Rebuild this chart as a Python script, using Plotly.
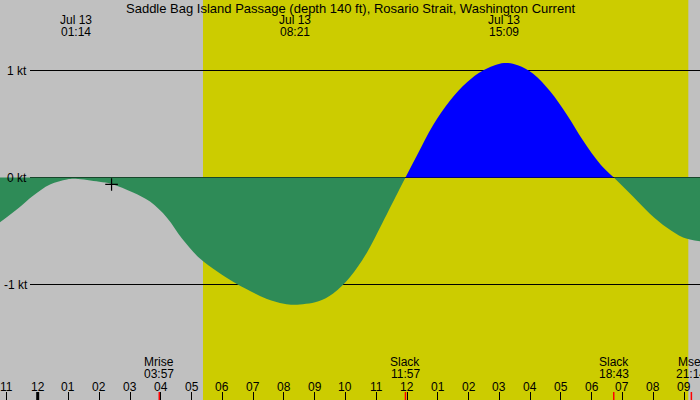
import plotly.graph_objects as go

# ---- data (hours relative to midnight Jul 13) ----
hours = [-1.23, -0.6, -0.15, 0.4, 0.95, 1.23, 2.0, 2.4, 3.1, 3.65, 4.2, 4.7, 5.3,
         6.35, 6.9, 7.45, 8.0, 8.35, 9.1, 9.6, 10.15, 10.7, 11.2, 11.75, 11.95,
         12.33, 12.85, 13.4, 13.95, 14.47, 15.15, 15.6, 16.1, 16.65, 17.2, 17.72,
         18.28, 18.72, 19.35, 19.9, 20.45, 20.97, 21.52]
speed = [-0.42, -0.28, -0.17, -0.065, -0.018, -0.012, -0.04, -0.06, -0.14, -0.225,
         -0.375, -0.575, -0.765, -0.975, -1.06, -1.135, -1.18, -1.19, -1.16, -1.085,
         -0.931, -0.70, -0.425, -0.112, 0.0, 0.21, 0.49, 0.72, 0.89, 1.00, 1.07, 1.05,
         0.97, 0.805, 0.585, 0.346, 0.125, 0.0, -0.18, -0.34, -0.47, -0.56, -0.595]

title = "Saddle Bag Island Passage (depth 140 ft), Rosario Strait, Washington Current"

peak_hours = [1.233, 8.35, 15.15]
peak_dates = ["Jul 13", "Jul 13", "Jul 13"]
peak_times = ["01:14", "08:21", "15:09"]

event_hours = [3.95, 11.95, 18.717, 21.24]
event_names = ["Mrise", "Slack", "Slack", "Mset"]
event_times = ["03:57", "11:57", "18:43", "21:14"]

sunrise, sunset = 5.37, 21.14
marker_hour, marker_speed = [2.4], [-0.065]

tick_hours = list(range(-1, 22))
tick_text = ["11", "12", "01", "02", "03", "04", "05", "06", "07", "08", "09", "10",
             "11", "12", "01", "02", "03", "04", "05", "06", "07", "08", "09"]

kt_levels = [1, 0, -1]
kt_labels = ["1 kt", "0 kt", "-1 kt"]

W, H = 700, 400
GRAY = "#c0c0c0"
YEL = "#cccc00"
GREEN = "#2e8b57"
BLUE = "#0000ff"
FONT = "Liberation Sans"
FS = 12

fig = go.Figure()

# split into sign segments at slack points
i1 = hours.index(11.95)
i2 = hours.index(18.72)
segs = [(hours[:i1 + 1], speed[:i1 + 1], GREEN),
        (hours[i1:i2 + 1], speed[i1:i2 + 1], BLUE),
        (hours[i2:], speed[i2:], GREEN)]
for hx, sy, col in segs:
    fig.add_trace(go.Scatter(x=hx, y=sy, mode="lines", fill="tozeroy",
                             fillcolor=col, line=dict(width=0, shape="spline", smoothing=1.0),
                             hoverinfo="skip", showlegend=False))

fig.add_trace(go.Scatter(x=marker_hour, y=marker_speed, mode="markers",
                         marker=dict(symbol="cross-thin", size=9, line=dict(width=1.2, color="black")),
                         showlegend=False, hoverinfo="skip"))

shapes = [dict(type="rect", xref="x", yref="paper", x0=sunrise, x1=sunset, y0=0, y1=1,
               fillcolor=YEL, line=dict(width=0), layer="below")]
for lv in kt_levels:
    shapes.append(dict(type="line", xref="paper", yref="y", x0=30 / W, x1=1, y0=lv, y1=lv,
                       line=dict(color="black", width=1), layer="below"))
# midnight tick
shapes.append(dict(type="line", xref="x", yref="paper", x0=0, x1=0, y0=0, y1=8 / H,
                   line=dict(color="black", width=3)))
for eh in event_hours:
    shapes.append(dict(type="line", xref="x", yref="paper", x0=eh, x1=eh, y0=0, y1=8 / H,
                       line=dict(color="red", width=1.5)))

ann = []
def py(px):
    return 1 - px / H

ann.append(dict(text=title, x=0.5, y=py(8), xref="paper", yref="paper",
                showarrow=False, xanchor="center", yanchor="middle",
                font=dict(size=13)))
for h, d, t in zip(peak_hours, peak_dates, peak_times):
    ann.append(dict(text=d, x=h, y=py(20), xref="x", yref="paper", showarrow=False,
                    xanchor="center", yanchor="middle"))
    ann.append(dict(text=t, x=h, y=py(32), xref="x", yref="paper", showarrow=False,
                    xanchor="center", yanchor="middle"))
for h, n, t in zip(event_hours, event_names, event_times):
    ann.append(dict(text=n, x=h, y=py(362), xref="x", yref="paper", showarrow=False,
                    xanchor="center", yanchor="middle"))
    ann.append(dict(text=t, x=h, y=py(374), xref="x", yref="paper", showarrow=False,
                    xanchor="center", yanchor="middle"))
for h, t in zip(tick_hours, tick_text):
    ann.append(dict(text=t, x=h, y=py(386.5), xref="x", yref="paper", showarrow=False,
                    xanchor="center", yanchor="middle"))
for lv, lb in zip(kt_levels, kt_labels):
    ann.append(dict(text=lb, x=5 / W if lv >= 0 else 2 / W, y=lv, xref="paper", yref="y",
                    showarrow=False, xanchor="left", yanchor="middle"))

x0 = -1.225
x1 = 21.52
fig.update_layout(
    width=W, height=H, margin=dict(l=0, r=0, t=0, b=0),
    paper_bgcolor=GRAY, plot_bgcolor=GRAY,
    font=dict(family=FONT, size=FS, color="black"),
    shapes=shapes, annotations=ann, showlegend=False,
    xaxis=dict(range=[x0, x1], showgrid=False, zeroline=False, showline=False,
               tickvals=tick_hours, ticks="inside", ticklen=8, tickwidth=1,
               tickcolor="black", showticklabels=False, fixedrange=True),
    yaxis=dict(range=[-2.0794, 1.6589], showgrid=False, zeroline=False, showline=False,
               showticklabels=False, ticks="", fixedrange=True),
)

fig.write_html("out.html", config={"displayModeBar": False})
